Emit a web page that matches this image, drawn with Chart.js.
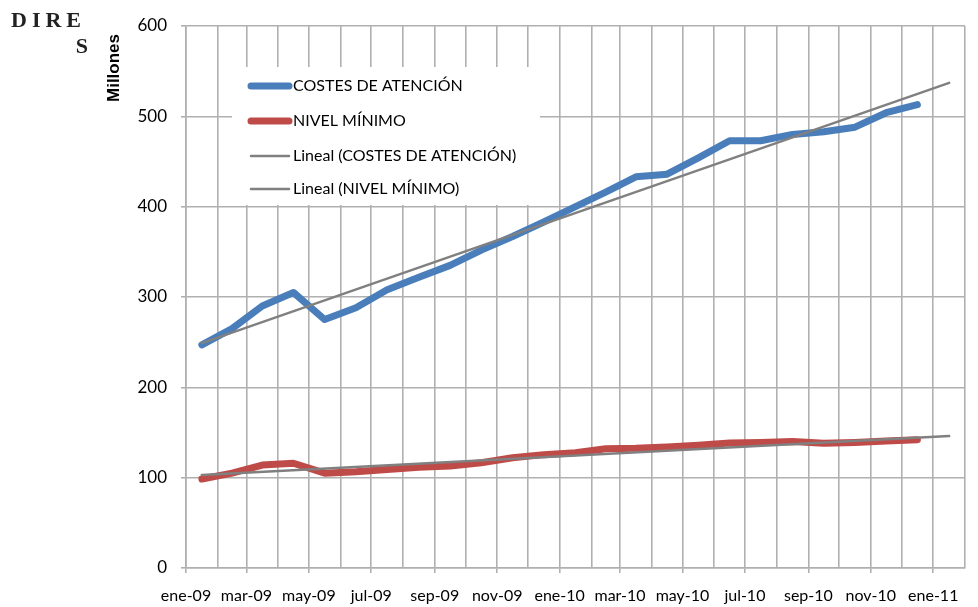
<!DOCTYPE html>
<html>
<head>
<meta charset="utf-8">
<script src="https://cdn.jsdelivr.net/npm/chart.js@4.4.1/dist/chart.umd.min.js"></script>
<style>
  html, body { margin: 0; padding: 0; background: #fff; }
</style>
</head>
<body>
<canvas id="chart" width="978" height="607"></canvas>
<script>
// month labels for the date axis (last one only closes the plot area)
const months = ['ene-09','feb-09','mar-09','abr-09','may-09','jun-09','jul-09','ago-09','sep-09','oct-09','nov-09','dic-09',
                'ene-10','feb-10','mar-10','abr-10','may-10','jun-10','jul-10','ago-10','sep-10','oct-10','nov-10','dic-10',
                'ene-11','feb-11'];
// millones, one value per month ene-09 .. dic-10
const costesAtencion = [247, 265, 290, 305, 275, 288, 308, 322, 335, 352, 367, 383,
                        400, 416, 433, 436, 454, 473, 473, 480, 483, 488, 504, 513];
const nivelMinimo = [98.5, 105, 114, 116, 105, 106.5, 109, 111.5, 113, 116.5, 122, 125.5,
                     127.5, 132, 132.5, 134, 136, 138.5, 139, 140, 138, 139, 140.5, 142];
// linear trend lines, read at ene-09 and ene-11
const trendMonths = [0, 24];
const linealCostes = [249, 537];
const linealNivel = [103, 146];

const seriesNames = ['COSTES DE ATENCIÓN', 'NIVEL MÍNIMO', 'Lineal (COSTES DE ATENCIÓN)', 'Lineal (NIVEL MÍNIMO)'];

const day0 = Date.UTC(2009, 0, 1);
function monthStart(i) {
    return (Date.UTC(2009, i, 1) - day0) / 86400000;
}
function monthMid(i) {
    return (monthStart(i) + monthStart(i + 1)) / 2;
}
const tickDays = months.map((m, i) => monthStart(i));

function toPoints(vals, idx) {
    return vals.map((v, i) => ({ x: monthMid(idx ? idx[i] : i), y: v }));
}

const gridColor = '#b0b0b0';

const extraText = {
    id: 'extraText',
    afterDraw(chart) {
        const c = chart.ctx;
        c.save();
        // heading fragment at the top left
        c.fillStyle = '#222';
        c.font = 'bold 22px "Liberation Serif"';
        c.textBaseline = 'alphabetic';
        c.letterSpacing = '5px';
        c.textAlign = 'left';
        c.fillText('DIRE', 11, 27);
        c.letterSpacing = '0px';
        c.textAlign = 'right';
        c.fillText('S', 88, 53);

        // axis title
        c.fillStyle = '#000';
        c.font = 'bold 17px "Liberation Sans"';
        c.translate(119, 68);
        c.rotate(-Math.PI / 2);
        c.textAlign = 'center';
        c.fillText('Millones', 0, 0);
        c.restore();

        // legend
        c.save();
        c.fillStyle = '#fff';
        c.fillRect(232, 67, 308, 138);
        const rows = [86, 121, 156, 189];
        c.font = '16px Lato';
        c.textBaseline = 'middle';
        c.textAlign = 'left';
        chart.data.datasets.forEach((ds, i) => {
            const y = rows[i];
            c.strokeStyle = ds.borderColor;
            c.lineWidth = ds.borderWidth;
            c.lineCap = 'round';
            c.beginPath();
            c.moveTo(251, y);
            c.lineTo(289, y);
            c.stroke();
            c.fillStyle = '#000';
            c.fillText(ds.label, 293, y);
        });
        c.restore();
    }
};

new Chart(document.getElementById('chart'), {
    type: 'line',
    data: {
        datasets: [{
            label: seriesNames[0],
            data: toPoints(costesAtencion),
            borderColor: '#4a7ebb',
            borderWidth: 7,
            order: 2
        }, {
            label: seriesNames[1],
            data: toPoints(nivelMinimo),
            borderColor: '#be4b48',
            borderWidth: 7,
            order: 2
        }, {
            label: seriesNames[2],
            data: toPoints(linealCostes, trendMonths),
            borderColor: '#808080',
            borderWidth: 2.5,
            order: 1
        }, {
            label: seriesNames[3],
            data: toPoints(linealNivel, trendMonths),
            borderColor: '#808080',
            borderWidth: 2.5,
            order: 1
        }]
    },
    options: {
        responsive: false,
        animation: false,
        layout: { padding: { left: 0, top: 26, right: 9, bottom: 0 } },
        elements: {
            point: { radius: 0 },
            line: { tension: 0, borderCapStyle: 'round', borderJoinStyle: 'round', fill: false }
        },
        plugins: {
            legend: { display: false },
            tooltip: { enabled: false }
        },
        scales: {
            x: {
                type: 'linear',
                min: 0,
                max: tickDays[tickDays.length - 1],
                afterBuildTicks: s => { s.ticks = tickDays.map(v => ({ value: v })); },
                afterFit: s => { s.height = 39; },
                grid: {
                    color: gridColor,
                    lineWidth: 1.6,
                    tickLength: 5,
                    tickColor: ctx => ctx.index % 2 === 0 ? gridColor : 'rgba(0,0,0,0)'
                },
                border: { color: gridColor, width: 1.6 },
                ticks: {
                    autoSkip: false,
                    maxRotation: 0,
                    padding: 13,
                    color: '#000',
                    font: { family: 'Lato', size: 16 },
                    callback: (v, i) => (i % 2 === 0 && i < months.length - 1) ? months[i] : ''
                }
            },
            y: {
                min: 0,
                max: 600,
                afterFit: s => { s.width = 186; },
                grid: { color: gridColor, lineWidth: 1.6, tickLength: 5 },
                border: { color: gridColor, width: 1.6 },
                ticks: { stepSize: 100, padding: 14, color: '#000', font: { family: 'Lato', size: 17 } }
            }
        }
    },
    plugins: [extraText]
});
</script>
</body>
</html>
